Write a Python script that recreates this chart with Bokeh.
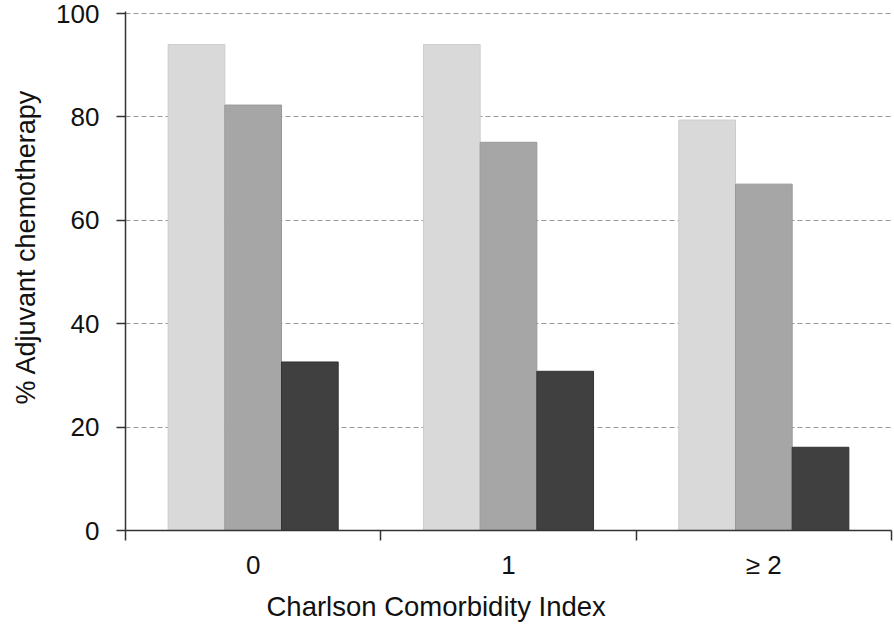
from bokeh.plotting import figure
from bokeh.models import FixedTicker, ColumnDataSource, Range1d, Title
from bokeh.transform import dodge
from bokeh.embed import file_html
from bokeh.resources import INLINE

# Data
categories = ["0", "1", "\u2265 2"]
group_pos = [0.5, 1.5, 2.5]
series_a = [94.0, 94.0, 79.4]   # light grey
series_b = [82.3, 75.1, 67.0]   # mid grey
series_c = [32.6, 30.8, 16.1]   # dark grey
y_ticks = [0, 20, 40, 60, 80, 100]
x_title = "Charlson Comorbidity Index"
y_title = "% Adjuvant chemotherapy"

FONT = "Liberation Sans"

src = ColumnDataSource(dict(x=group_pos, a=series_a, b=series_b, c=series_c))

p = figure(width=894, height=628, output_backend="svg", toolbar_location=None,
           x_range=Range1d(0, 3), y_range=Range1d(0, 100.4),
           min_border_left=125, min_border_right=3, min_border_top=11, min_border_bottom=98)
p.outline_line_color = None
p.background_fill_color = "white"
p.border_fill_color = "white"

bw = 0.222
p.vbar(x=dodge("x", -bw, range=p.x_range), top="a", width=bw, source=src,
       fill_color="#d9d9d9", line_color="#cccccc", line_width=1)
p.vbar(x=dodge("x", 0, range=p.x_range), top="b", width=bw, source=src,
       fill_color="#a6a6a6", line_color="#999999", line_width=1)
p.vbar(x=dodge("x", bw, range=p.x_range), top="c", width=bw, source=src,
       fill_color="#404040", line_color="#333333", line_width=1)

# grid
p.xgrid.grid_line_color = None
p.ygrid.ticker = FixedTicker(ticks=y_ticks[1:])
p.ygrid.grid_line_color = "#999999"
p.ygrid.grid_line_dash = "5 3"
p.ygrid.grid_line_width = 1
p.ygrid.level = "underlay"

# x axis
xa = p.xaxis[0]
xa.ticker = FixedTicker(ticks=group_pos, minor_ticks=[0, 1, 2, 3])
xa.major_label_overrides = {gp: c for gp, c in zip(group_pos, categories)}
xa.major_tick_out = 0
xa.major_tick_in = 0
xa.minor_tick_out = 10
xa.minor_tick_in = 0
xa.minor_tick_line_color = "#333333"
xa.minor_tick_line_width = 1.5
xa.axis_line_color = "#333333"
xa.axis_line_width = 1.5
xa.major_label_text_font = FONT
xa.major_label_text_font_size = "26px"
xa.major_label_text_color = "#111111"
xa.major_label_standoff = 9

# y axis
ya = p.yaxis[0]
ya.ticker = FixedTicker(ticks=y_ticks)
ya.major_tick_out = 9
ya.major_tick_in = 0
ya.minor_tick_out = 0
ya.minor_tick_in = 0
ya.major_tick_line_color = "#333333"
ya.major_tick_line_width = 1.5
ya.axis_line_color = "#333333"
ya.axis_line_width = 1.5
ya.major_label_text_font = FONT
ya.major_label_text_font_size = "26px"
ya.major_label_text_color = "#111111"
ya.major_label_standoff = 17

# axis titles
p.add_layout(Title(text=x_title, align="left", offset=141, standoff=12,
                   text_font=FONT, text_font_size="27.5px", text_font_style="normal",
                   text_color="#111111"), "below")
p.add_layout(Title(text=y_title, align="left", offset=126, standoff=21,
                   vertical_align="top",
                   text_font=FONT, text_font_size="27px", text_font_style="normal",
                   text_color="#111111"), "left")

open("out.html", "w").write(file_html(p, INLINE))
